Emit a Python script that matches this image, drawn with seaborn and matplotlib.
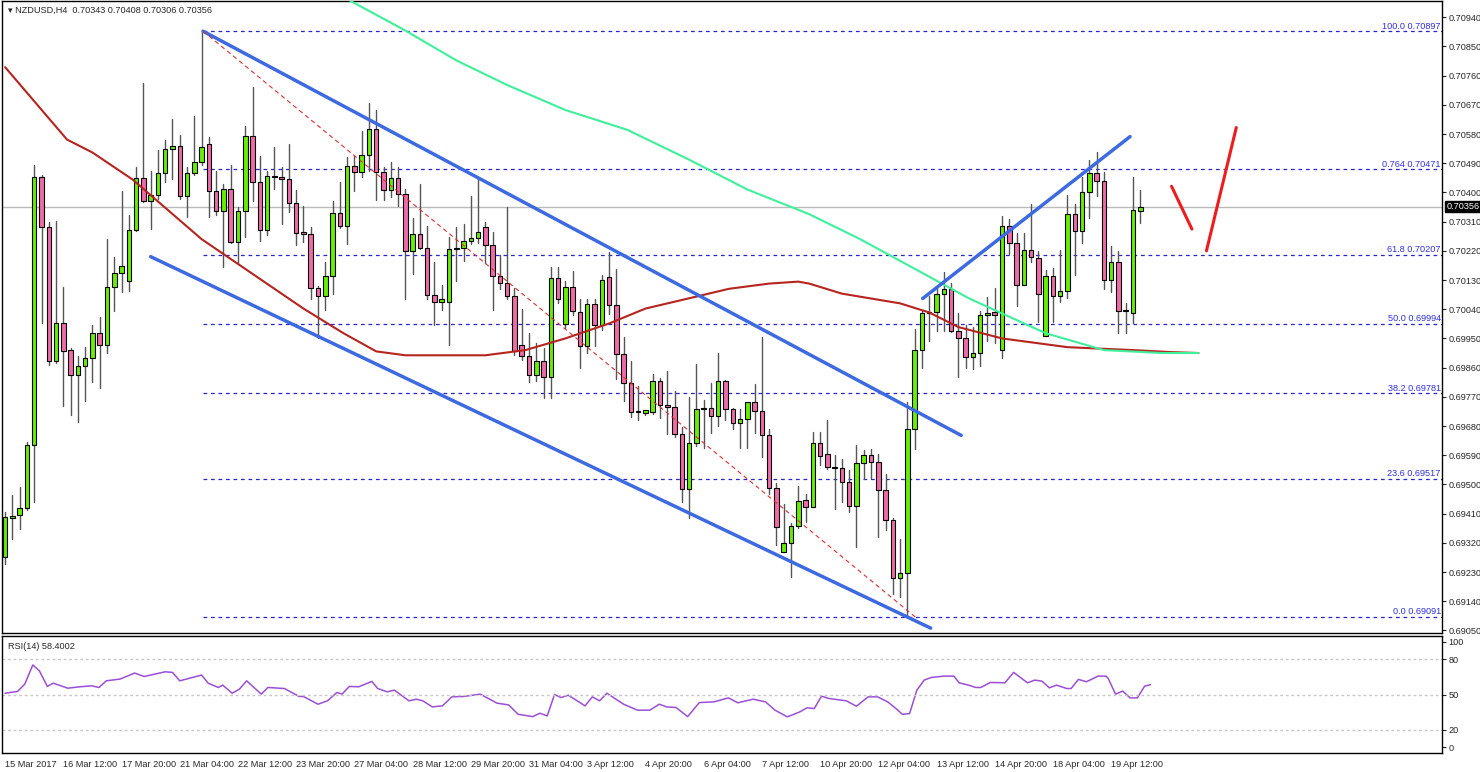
import numpy as np
import pandas as pd
import matplotlib
matplotlib.use("Agg")
import matplotlib.pyplot as plt
import seaborn as sns

# NZDUSD H4 candles
opens = [0.69277, 0.69397, 0.69406, 0.69427, 0.69623, 0.70449, 0.70293, 0.69880, 0.69996, 0.69913,
         0.69836, 0.69864, 0.69889, 0.69966, 0.69929, 0.70109, 0.70152, 0.70128, 0.70284, 0.70443,
         0.70373, 0.70391, 0.70461, 0.70535, 0.70544, 0.70388, 0.70461, 0.70495, 0.70550, 0.70403,
         0.70342, 0.70409, 0.70247, 0.70342, 0.70575, 0.70431, 0.70284, 0.70452, 0.70446, 0.70440,
         0.70367, 0.70278, 0.70272, 0.70106, 0.70082, 0.70143, 0.70336, 0.70296, 0.70480, 0.70462,
         0.70514, 0.70596, 0.70462, 0.70407, 0.70443, 0.70394, 0.70220, 0.70272, 0.70229, 0.70085,
         0.70063, 0.70063, 0.70226, 0.70229, 0.70250, 0.70259, 0.70292, 0.70237, 0.70143, 0.70122,
         0.70082, 0.69931, 0.69895, 0.69836, 0.69879, 0.69830, 0.70137, 0.69994, 0.70110, 0.70030,
         0.69926, 0.70055, 0.69991, 0.70140, 0.70052, 0.69902, 0.69813, 0.69725, 0.69719, 0.69722,
         0.69819, 0.69746, 0.69740, 0.69654, 0.69486, 0.69627, 0.69731, 0.69734, 0.69712, 0.69819,
         0.69731, 0.69688, 0.69703, 0.69755, 0.69725, 0.69651, 0.69489, 0.69293, 0.69320, 0.69372,
         0.69452, 0.69430, 0.69627, 0.69593, 0.69553, 0.69550, 0.69508, 0.69433, 0.69565, 0.69590,
         0.69569, 0.69483, 0.69391, 0.69211, 0.69226, 0.69672, 0.69913, 0.70027, 0.70030, 0.70088,
         0.70101, 0.69972, 0.69950, 0.69892, 0.69904, 0.70021, 0.70030, 0.69913, 0.70296, 0.70243,
         0.70115, 0.70222, 0.70198, 0.69956, 0.70143, 0.70082, 0.70097, 0.70333, 0.70281, 0.70400,
         0.70461, 0.70434, 0.70131, 0.70186, 0.70039, 0.70027, 0.70343]
closes = [0.69400, 0.69403, 0.69427, 0.69623, 0.70449, 0.70293, 0.69880, 0.69996, 0.69910, 0.69836,
          0.69864, 0.69889, 0.69966, 0.69929, 0.70109, 0.70152, 0.70173, 0.70284, 0.70443, 0.70373,
          0.70391, 0.70461, 0.70535, 0.70544, 0.70388, 0.70461, 0.70495, 0.70541, 0.70403, 0.70342,
          0.70409, 0.70247, 0.70342, 0.70575, 0.70431, 0.70284, 0.70452, 0.70446, 0.70440, 0.70367,
          0.70275, 0.70272, 0.70106, 0.70082, 0.70143, 0.70336, 0.70296, 0.70480, 0.70462, 0.70514,
          0.70596, 0.70462, 0.70407, 0.70443, 0.70394, 0.70220, 0.70272, 0.70229, 0.70085, 0.70063,
          0.70070, 0.70226, 0.70229, 0.70250, 0.70259, 0.70278, 0.70237, 0.70143, 0.70122, 0.70082,
          0.69910, 0.69895, 0.69836, 0.69879, 0.69830, 0.70137, 0.70070, 0.70107, 0.70033, 0.69926,
          0.70055, 0.69991, 0.70131, 0.70052, 0.69902, 0.69813, 0.69722, 0.69722, 0.69728, 0.69819,
          0.69746, 0.69740, 0.69654, 0.69486, 0.69627, 0.69731, 0.69734, 0.69712, 0.69819, 0.69731,
          0.69688, 0.69703, 0.69755, 0.69725, 0.69651, 0.69489, 0.69369, 0.69320, 0.69372, 0.69448,
          0.69430, 0.69627, 0.69587, 0.69553, 0.69550, 0.69508, 0.69433, 0.69565, 0.69590, 0.69569,
          0.69483, 0.69391, 0.69211, 0.69226, 0.69672, 0.69913, 0.70027, 0.70030, 0.70088, 0.70101,
          0.69972, 0.69950, 0.69892, 0.69904, 0.70021, 0.70027, 0.70021, 0.70296, 0.70243, 0.70115,
          0.70222, 0.70201, 0.70088, 0.70143, 0.70082, 0.70097, 0.70333, 0.70281, 0.70400, 0.70461,
          0.70434, 0.70131, 0.70186, 0.70036, 0.70033, 0.70345, 0.70356]
highs = [0.69415, 0.69467, 0.69492, 0.69630, 0.70486, 0.70455, 0.70309, 0.70312, 0.70107, 0.69920,
         0.69896, 0.69923, 0.69990, 0.70015, 0.70257, 0.70202, 0.70404, 0.70330, 0.70477, 0.70737,
         0.70465, 0.70532, 0.70563, 0.70627, 0.70578, 0.70477, 0.70636, 0.70897, 0.70572, 0.70465,
         0.70425, 0.70486, 0.70355, 0.70605, 0.70725, 0.70511, 0.70465, 0.70541, 0.70477, 0.70550,
         0.70407, 0.70358, 0.70293, 0.70113, 0.70186, 0.70373, 0.70431, 0.70508, 0.70511, 0.70590,
         0.70676, 0.70655, 0.70477, 0.70495, 0.70477, 0.70410, 0.70321, 0.70425, 0.70296, 0.70186,
         0.70116, 0.70263, 0.70293, 0.70303, 0.70388, 0.70443, 0.70309, 0.70278, 0.70208, 0.70355,
         0.70104, 0.70042, 0.69966, 0.69935, 0.69920, 0.70171, 0.70171, 0.70128, 0.70159, 0.70070,
         0.70070, 0.70073, 0.70146, 0.70217, 0.70165, 0.69954, 0.69880, 0.69804, 0.69730, 0.69840,
         0.69828, 0.69850, 0.69788, 0.69678, 0.69770, 0.69871, 0.69761, 0.69813, 0.69905, 0.69822,
         0.69736, 0.69733, 0.69755, 0.69810, 0.69954, 0.69672, 0.69504, 0.69440, 0.69382, 0.69495,
         0.69470, 0.69660, 0.69660, 0.69697, 0.69590, 0.69577, 0.69544, 0.69620, 0.69605, 0.69608,
         0.69593, 0.69531, 0.69397, 0.69333, 0.69755, 0.69978, 0.70033, 0.70082, 0.70104, 0.70156,
         0.70122, 0.70027, 0.69990, 0.69984, 0.70036, 0.70079, 0.70104, 0.70327, 0.70318, 0.70275,
         0.70275, 0.70364, 0.70220, 0.70162, 0.70168, 0.70223, 0.70391, 0.70364, 0.70446, 0.70501,
         0.70526, 0.70462, 0.70235, 0.70220, 0.70058, 0.70446, 0.70408]
lows = [0.69256, 0.69332, 0.69363, 0.69420, 0.69446, 0.69997, 0.69868, 0.69874, 0.69743, 0.69715,
        0.69691, 0.69758, 0.69816, 0.69798, 0.69905, 0.70033, 0.70094, 0.70097, 0.70281, 0.70370,
        0.70287, 0.70379, 0.70431, 0.70440, 0.70379, 0.70324, 0.70455, 0.70486, 0.70324, 0.70330,
        0.70171, 0.70244, 0.70183, 0.70263, 0.70373, 0.70251, 0.70269, 0.70410, 0.70303, 0.70339,
        0.70238, 0.70247, 0.70073, 0.69951, 0.70039, 0.70088, 0.70290, 0.70241, 0.70404, 0.70449,
        0.70465, 0.70376, 0.70376, 0.70385, 0.70358, 0.70070, 0.70150, 0.70226, 0.70070, 0.69990,
        0.70039, 0.69929, 0.70128, 0.70189, 0.70241, 0.70244, 0.70183, 0.70039, 0.70101, 0.70073,
        0.69899, 0.69883, 0.69816, 0.69819, 0.69767, 0.69767, 0.70058, 0.69981, 0.70021, 0.69859,
        0.69905, 0.69926, 0.69975, 0.70024, 0.69825, 0.69758, 0.69709, 0.69700, 0.69715, 0.69718,
        0.69706, 0.69654, 0.69645, 0.69446, 0.69397, 0.69617, 0.69611, 0.69657, 0.69681, 0.69700,
        0.69672, 0.69611, 0.69611, 0.69657, 0.69586, 0.69470, 0.69314, 0.69293, 0.69216, 0.69366,
        0.69385, 0.69430, 0.69559, 0.69547, 0.69423, 0.69446, 0.69415, 0.69308, 0.69516, 0.69519,
        0.69339, 0.69360, 0.69161, 0.69152, 0.69091, 0.69608, 0.69859, 0.69941, 0.69972, 0.69972,
        0.69969, 0.69831, 0.69859, 0.69856, 0.69865, 0.69941, 0.69935, 0.69889, 0.70211, 0.70049,
        0.70116, 0.70186, 0.70000, 0.69957, 0.70000, 0.70061, 0.70076, 0.70146, 0.70244, 0.70321,
        0.70388, 0.70101, 0.70094, 0.69966, 0.69966, 0.69997, 0.70306]

# moving averages (bar index, price)
ma_red_x = [0, 8.5, 12, 17.5, 27, 34, 41, 46.5, 51, 55, 60.5, 66, 71.5, 77, 83, 88, 95, 99.5, 105, 109,
            110.5, 115, 119, 123, 127, 131, 137, 146, 155, 160, 164]
ma_red_y = [0.70786, 0.70563, 0.70523, 0.70440, 0.70256, 0.70149, 0.70042, 0.69966, 0.69910, 0.69898,
            0.69898, 0.69898, 0.69914, 0.69950, 0.69996, 0.70042, 0.70079, 0.70103, 0.70119, 0.70125,
            0.70119, 0.70088, 0.70073, 0.70058, 0.70030, 0.69985, 0.69950, 0.69923, 0.69914, 0.69908, 0.69905]
ma_green_x = [47.4, 55, 62, 69, 77, 85.5, 94, 102, 110.5, 117.5, 123, 128, 132.5, 137, 143, 151, 159, 164]
ma_green_y = [0.70991, 0.70899, 0.70807, 0.70731, 0.70654, 0.70593, 0.70501, 0.70409, 0.70333, 0.70256,
              0.70189, 0.70128, 0.70073, 0.70027, 0.69966, 0.69914, 0.69905, 0.69905]

# RSI(14)
rsi_x = [0, 1.7, 2.7, 3.8, 4.7, 5.8, 6.6, 8.6, 10.3, 11.9, 12.9, 13.9, 15.8, 17.8, 19.1, 22.0, 23.0, 24.0,
         27.0, 27.9, 29.3, 29.9, 31.2, 32.2, 33.2, 35.2, 36.1, 38.4, 40.4, 41.0, 43.0, 44.3, 45.6, 46.3,
         47.3, 48.6, 50.4, 51.2, 52.5, 53.5, 55.5, 56.5, 57.4, 58.7, 60.1, 61.4, 63.0, 65.3, 67.6, 69.2,
         70.5, 72.5, 73.5, 74.5, 75.5, 76.4, 77.4, 79.7, 80.7, 81.7, 82.7, 85.0, 86.9, 88.6, 89.9, 90.9,
         92.2, 93.8, 95.4, 97.4, 99.4, 100.7, 102.8, 104.5, 105.8, 107.5, 109.2, 110.2, 111.2, 112.2,
         113.2, 115.6, 117.0, 118.6, 119.9, 121.3, 122.6, 123.3, 124.3, 125.3, 126.3, 127.3, 129.0,
         130.4, 131.1, 132.4, 133.4, 134.1, 135.4, 137.4, 138.6, 140.5, 141.5, 142.5, 143.5, 144.5,
         145.9, 146.5, 147.5, 148.6, 150.2, 151.3, 151.6, 152.6, 153.6, 154.6, 155.6, 156.6, 157.4]
rsi_y = [51.1, 52.6, 58.9, 75.2, 70.3, 56.9, 59.7, 55.4, 56.6, 57.4, 56.0, 61.7, 63.2, 68.3, 65.4, 69.4,
         68.9, 61.7, 66.6, 59.7, 56.0, 58.0, 51.1, 54.6, 61.7, 50.3, 56.0, 55.1, 48.3, 48.3, 41.7, 44.6,
         51.7, 50.3, 56.9, 56.6, 61.2, 55.1, 52.3, 53.7, 44.6, 46.0, 44.6, 39.4, 40.3, 48.0, 48.3, 50.3,
         42.6, 41.1, 33.1, 31.1, 34.0, 31.7, 50.0, 47.4, 49.4, 40.3, 48.0, 44.6, 51.1, 41.7, 36.6, 36.6,
         41.7, 39.4, 38.9, 31.1, 43.1, 43.7, 47.1, 42.9, 46.0, 43.7, 36.6, 30.9, 35.1, 38.6, 38.0, 48.6,
         46.6, 44.6, 40.0, 48.0, 48.0, 43.7, 37.1, 33.1, 33.7, 53.7, 62.3, 64.6, 65.7, 65.7, 60.0, 58.0,
         56.0, 56.0, 60.3, 60.0, 68.9, 60.0, 62.3, 61.4, 55.7, 58.0, 55.1, 55.1, 62.9, 60.9, 65.7, 65.7,
         63.7, 50.3, 52.9, 47.1, 47.1, 57.1, 58.4]

fib_pct = ["100.0", "0.764", "61.8", "50.0", "38.2", "23.6", "0.0"]
fib_prices = [0.70897, 0.70471, 0.70207, 0.69994, 0.69781, 0.69517, 0.69091]
price_ticks = [0.70940, 0.70850, 0.70760, 0.70670, 0.70580, 0.70490, 0.70400, 0.70310, 0.70220,
               0.70130, 0.70040, 0.69950, 0.69860, 0.69770, 0.69680, 0.69590, 0.69500, 0.69410,
               0.69320, 0.69230, 0.69140, 0.69050]
date_labels = ["15 Mar 2017", "16 Mar 12:00", "17 Mar 20:00", "21 Mar 04:00", "22 Mar 12:00",
               "23 Mar 20:00", "27 Mar 04:00", "28 Mar 12:00", "29 Mar 20:00", "31 Mar 04:00",
               "3 Apr 12:00", "4 Apr 20:00", "6 Apr 04:00", "7 Apr 12:00", "10 Apr 20:00",
               "12 Apr 04:00", "13 Apr 12:00", "14 Apr 20:00", "18 Apr 04:00", "19 Apr 12:00"]

# hand-drawn lines: (bar index, price) endpoints
channel_upper = [(27.2, 0.70897), (131.4, 0.69651)]
channel_lower = [(20.0, 0.70202), (127.2, 0.69057)]
rising_line = [(126.1, 0.70073), (154.6, 0.70572)]
fib_diag = [(27.2, 0.70897), (125.1, 0.69091)]
arrow_down = [(160.3, 0.70419), (163.1, 0.70287)]
arrow_up = [(165.1, 0.70220), (169.2, 0.70600)]
last_price = 0.70356

sns.set_style("white")
plt.rcParams['font.family'] = ['Liberation Sans', 'DejaVu Sans']
FS = 6.6

fig = plt.figure(figsize=(14.8, 7.72), dpi=100)
ax = fig.add_axes([0.0015, 1 - 633 / 772, 1440 / 1480, 632 / 772])
axr = fig.add_axes([0.0015, 1 - 753 / 772, 1440 / 1480, 117 / 772])

idx = np.arange(len(closes))
xmin, xmax = -0.4, 197.5

# candles
up = "#66f000"
down = "#f06aaa"
for i, o, h, l, c in zip(idx, opens, highs, lows, closes):
    ax.plot([i, i], [l, h], color="#555555", lw=1, zorder=2)
    lo, hi = min(o, c), max(o, c)
    ax.bar(i, max(hi - lo, 0.000015), bottom=lo, width=0.62, color=up if c >= o else down,
           edgecolor="black", linewidth=0.8, zorder=3)

sns.lineplot(x=ma_red_x, y=ma_red_y, ax=ax, color="#b5241f", lw=1.5, zorder=4)
sns.lineplot(x=ma_green_x, y=ma_green_y, ax=ax, color="#3ff09a", lw=1.5, zorder=4)

for pct, p in zip(fib_pct, fib_prices):
    ax.plot([27.2, xmax], [p, p], color="#2424d0", lw=0.9, ls=(0, (3, 3)), zorder=1)
    ax.text(xmax - 0.2, p + 0.00002, f"{pct} {p:.5f}", color="#3030e0", fontsize=FS,
            ha="right", va="bottom")
ax.axhline(last_price, color="#bbbbbb", lw=1, zorder=1)

for seg, col, lw, ls in [(channel_upper, "#3d6ae0", 2.5, "-"), (channel_lower, "#3d6ae0", 2.5, "-"),
                         (rising_line, "#3d6ae0", 2.5, "-"), (fib_diag, "#e03030", 0.8, (0, (4, 3))),
                         (arrow_down, "#ee1c1c", 2.2, "-"), (arrow_up, "#ee1c1c", 2.2, "-")]:
    ax.plot([seg[0][0], seg[1][0]], [seg[0][1], seg[1][1]], color=col, lw=lw, ls=ls, zorder=5)

ax.set_xlim(xmin, xmax)
ax.set_ylim(0.69042, 0.70990)
ax.yaxis.tick_right()
ax.set_yticks(price_ticks)
ax.set_yticklabels([f"{t:.5f}" for t in price_ticks], fontsize=FS)
ax.tick_params(axis="y", length=3, pad=1.5, direction="out")
ax.set_xticks([])
ax.text(xmax + 0.55, last_price, f"{last_price:.5f}", fontsize=FS, color="white", va="center",
        ha="left", bbox=dict(facecolor="black", edgecolor="black", pad=0.8), clip_on=False, zorder=10)
ax.text(0.004, 0.993, "\u25be NZDUSD,H4  0.70343 0.70408 0.70306 0.70356", transform=ax.transAxes,
        fontsize=FS, va="top", ha="left")

# RSI panel
sns.lineplot(x=rsi_x, y=rsi_y, ax=axr, color="#9a4fd6", lw=1.1)
for lvl in [80, 50, 20]:
    axr.axhline(lvl, color="#c8c8c8", lw=1, ls=(0, (2, 2)))
axr.set_xlim(xmin, xmax)
axr.set_ylim(0, 100)
axr.yaxis.tick_right()
axr.set_yticks([95, 80, 50, 20, 5])
axr.set_yticklabels(["100", "80", "50", "20", "0"], fontsize=FS)
axr.tick_params(axis="y", length=3, pad=1.5)
axr.text(0.004, 0.95, "RSI(14) 58.4002", transform=axr.transAxes, fontsize=FS, va="top")
tick_pos = [8 * k for k in range(len(date_labels))]
axr.set_xticks(tick_pos)
axr.set_xticklabels(date_labels, fontsize=FS, ha="left")
axr.tick_params(axis="x", length=3, pad=2)

for a in (ax, axr):
    for s in a.spines.values():
        s.set_color("black")
        s.set_linewidth(1)

fig.savefig("out.png", dpi=100)
